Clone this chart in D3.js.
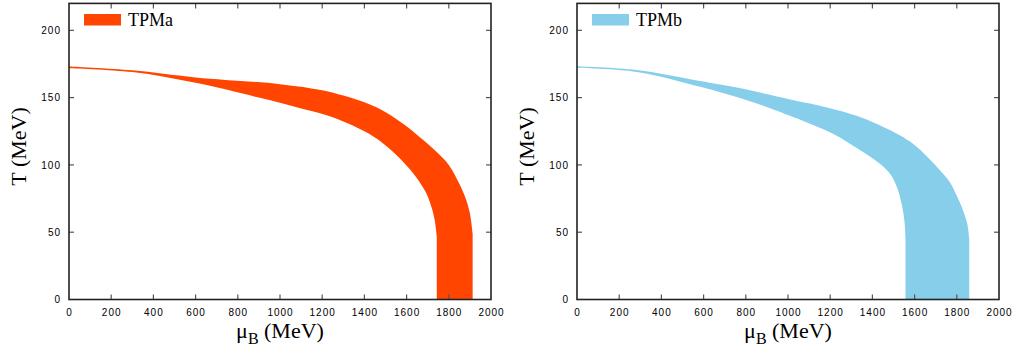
<!DOCTYPE html>
<html>
<head>
<meta charset="utf-8">
<script src="https://cdn.jsdelivr.net/npm/d3@7"></script>
<style>
  body { margin: 0; background: #fff; }
  svg { display: block; }
  .tick-label { font-family: "Liberation Sans", Arial, sans-serif; font-size: 10px; letter-spacing: 1px; }
  .serif { font-family: "Liberation Serif", "Times New Roman", Times, serif; }
</style>
</head>
<body>
<div id="chart"></div>
<script>
// tick values
const muTicks = [0, 200, 400, 600, 800, 1000, 1200, 1400, 1600, 1800, 2000];
const tTicks = [0, 50, 100, 150, 200];

// TPMa band: upper and lower edge as [muB, T], last point is the foot at T = 0
const tpmaUpper = [[0, 173.2], [300, 170.3], [600, 165], [1000, 160], [1200, 155.5], [1300, 151.5],
  [1400, 146.5], [1480, 141], [1580, 131], [1660, 121], [1740, 110], [1800, 100], [1850, 86],
  [1880, 75], [1900, 64], [1913, 49], [1913, 0]];
const tpmaLower = [[0, 171.9], [300, 169], [600, 161], [900, 150], [1100, 142], [1250, 135.5],
  [1400, 125], [1480, 117], [1560, 106], [1640, 92], [1690, 80], [1715, 70], [1732, 60],
  [1743, 47], [1743, 0]];

// TPMb band
const tpmbUpper = [[0, 173.3], [283, 170.5], [583, 162.3], [757, 157.5], [1000, 149], [1136, 144.5],
  [1250, 140], [1350, 135], [1452, 128.2], [1530, 122], [1594, 115.5], [1660, 106], [1720, 96],
  [1768, 87], [1800, 77], [1830, 66], [1850, 56], [1859, 45], [1859, 0]];
const tpmbLower = [[0, 172.1], [283, 169], [583, 158], [757, 150.4], [899, 143], [1000, 137],
  [1215, 123], [1326, 112.5], [1400, 105], [1450, 99], [1490, 92], [1520, 82], [1540, 70],
  [1552, 58], [1557, 45], [1557, 0]];

const W = 1015, H = 351;
const svg = d3.select("#chart").append("svg")
  .attr("width", W).attr("height", H);

const panels = [
  { left: 69, name: "TPMa", color: "#ff4500", upper: tpmaUpper, lower: tpmaLower },
  { left: 577, name: "TPMb", color: "#87ceeb", upper: tpmbUpper, lower: tpmbLower }
];

const PW = 422, TOP = 3.4, BOTTOM = 299.5;

panels.forEach(p => {
  const g = svg.append("g");
  const x = d3.scaleLinear().domain([0, 2000]).range([p.left, p.left + PW]);
  const y = d3.scaleLinear().domain([0, 220]).range([BOTTOM, TOP]);

  // band: smooth upper edge, straight drop to T = 0, smooth lower edge back
  const curve = d3.line().x(d => x(d[0])).y(d => y(d[1])).curve(d3.curveCatmullRom.alpha(0.5));
  const up = p.upper.slice(0, -1), upFoot = p.upper[p.upper.length - 1];
  const lo = p.lower.slice(0, -1).reverse(), loFoot = p.lower[p.lower.length - 1];
  const d = curve(up)
    + `L${x(upFoot[0])},${y(upFoot[1])}L${x(loFoot[0])},${y(loFoot[1])}`
    + curve(lo).replace(/^M/, "L") + "Z";
  g.append("path").attr("d", d).attr("fill", p.color);

  // ticks, inward on all four sides
  const tickCol = "#555";
  muTicks.slice(1, -1).forEach(v => {
    g.append("line").attr("x1", x(v)).attr("x2", x(v)).attr("y1", BOTTOM).attr("y2", BOTTOM - 5)
      .attr("stroke", tickCol).attr("stroke-width", 1.2);
    g.append("line").attr("x1", x(v)).attr("x2", x(v)).attr("y1", TOP).attr("y2", TOP + 5)
      .attr("stroke", tickCol).attr("stroke-width", 1.2);
  });
  tTicks.slice(1).forEach(v => {
    g.append("line").attr("x1", p.left).attr("x2", p.left + 5).attr("y1", y(v)).attr("y2", y(v))
      .attr("stroke", tickCol).attr("stroke-width", 1.2);
    g.append("line").attr("x1", p.left + PW).attr("x2", p.left + PW - 5).attr("y1", y(v)).attr("y2", y(v))
      .attr("stroke", tickCol).attr("stroke-width", 1.2);
  });

  // frame
  g.append("rect")
    .attr("x", p.left).attr("y", TOP)
    .attr("width", PW).attr("height", BOTTOM - TOP)
    .attr("fill", "none").attr("stroke", "#222").attr("stroke-width", 1.6);

  // tick labels
  g.selectAll(".xl").data(muTicks).join("text")
    .attr("class", "tick-label")
    .attr("x", d => x(d) + 0.5).attr("y", BOTTOM + 16)
    .attr("text-anchor", "middle")
    .text(d => d);
  g.selectAll(".yl").data(tTicks).join("text")
    .attr("class", "tick-label")
    .attr("x", p.left - 8).attr("y", d => y(d) + 3.6)
    .attr("text-anchor", "end")
    .text(d => d);

  // axis titles
  const xt = g.append("text")
    .attr("class", "serif")
    .attr("x", p.left + PW / 2).attr("y", 338)
    .attr("text-anchor", "middle")
    .style("font-size", "22px");
  xt.append("tspan").text("μ");
  xt.append("tspan").attr("dy", 6).style("font-size", "16px").text("B");
  xt.append("tspan").attr("dy", -6).text(" (MeV)");

  g.append("text")
    .attr("class", "serif")
    .attr("transform", `translate(${p.left - 43},${(TOP + BOTTOM) / 2 - 5}) rotate(-90)`)
    .attr("text-anchor", "middle")
    .style("font-size", "22px")
    .text("T (MeV)");

  // legend
  g.append("rect")
    .attr("x", p.left + 15).attr("y", 14)
    .attr("width", 37).attr("height", 11.5)
    .attr("fill", p.color);
  g.append("text")
    .attr("class", "serif")
    .attr("x", p.left + 59).attr("y", 26)
    .style("font-size", "18px")
    .text(p.name);
});
</script>
</body>
</html>
